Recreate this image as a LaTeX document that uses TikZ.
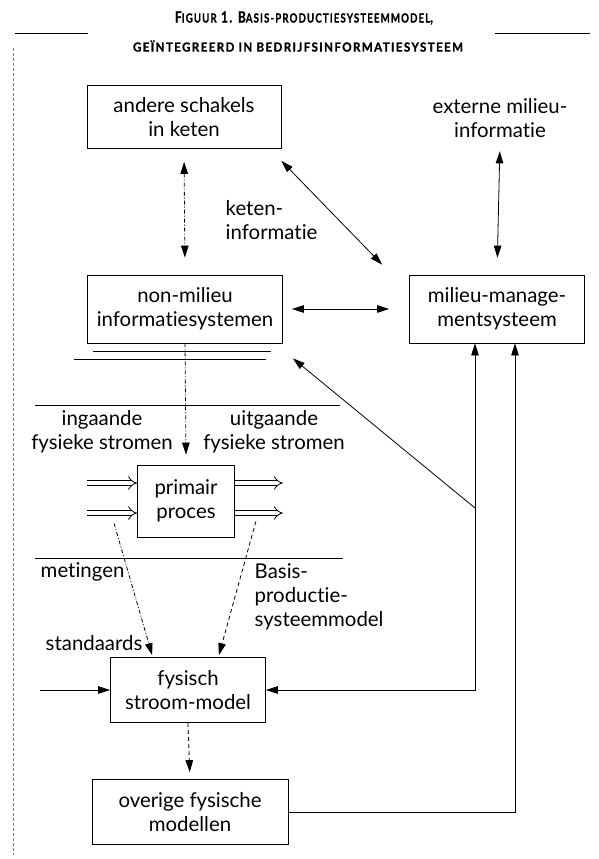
\documentclass[tikz,border=0pt]{standalone}
\usepackage{fontspec}
\usepackage{graphicx}
\setmainfont{Lato}[Ligatures=NoCommon]
\newfontfamily\titelfont{Lato}[LetterSpace=12, Ligatures=NoCommon, BoldFeatures={FakeBold=1.2}]
\usetikzlibrary{arrows.meta, calc}
\newcommand{\kl}[1]{{\fontsize{12.5}{14}\selectfont #1}}

\begin{document}
\begin{tikzpicture}[x=1pt, y=-1pt, line width=0.8pt, >={Triangle[length=12pt, width=7.5pt]},
    every node/.style={font=\fontsize{20.4}{24}\selectfont},
    blok/.style={draw, align=center, inner sep=0pt},
    streepstip/.style={dash pattern=on 4pt off 2pt on 1pt off 2pt},
    gestreept/.style={dash pattern=on 4pt off 3pt},
    stroom/.style={double, double distance=4pt, line width=0.8pt, -{Implies}}]
  \useasboundingbox (0,0) rectangle (599,859);
  % titel
  \node[font=\titelfont\bfseries\fontsize{15.5}{17}\selectfont] (titel1) at (304,18) {\resizebox{258pt}{\height}{F\kl{IGUUR} 1. B\kl{ASIS-PRODUCTIESYSTEEMMODEL},}};
  \node[font=\titelfont\bfseries\fontsize{15.5}{17}\selectfont] (titel2) at (298,46) {\resizebox{330pt}{\height}{\kl{GEÏNTEGREERD IN BEDRIJFSINFORMATIESYSTEEM}}};
  \draw (15,33) -- (88,33);
  \draw (495,33) -- (590,33);
  \draw[gray, densely dashed, line width=0.5pt] (13,48) -- (13,855);

  % blokken
  \node[blok, minimum width=194, minimum height=63] (schakels) at (184,117) {andere schakels\\in keten};
  \node[align=center] (extern) at (500,118) {externe milieu-\\informatie};
  \node[blok, minimum width=195, minimum height=68] (nonmilieu) at (185,309) {non-milieu\\informatiesystemen};
  \node[blok, minimum width=175, minimum height=68] (milieumgmt) at (497,309) {milieu-manage-\\mentsysteem};
  \node[blok, minimum width=97, minimum height=72] (primair) at (186,501) {primair\\proces};
  \node[blok, minimum width=155, minimum height=65] (fysisch) at (188,690) {fysisch\\stroom-model};
  \node[blok, minimum width=196, minimum height=65] (overige) at (190,812) {overige fysische\\modellen};

  % labels
  \node[align=left, anchor=west] (keteninfo) at (222,220) {keten-\\informatie};
  \node[align=center] (ingaand) at (102,432) {ingaande\\fysieke stromen};
  \node[align=center] (uitgaand) at (274,432) {uitgaande\\fysieke stromen};
  \node[anchor=west] (metingen) at (37,572) {metingen};
  \node[align=left, anchor=north west] (basis) at (251,560) {Basis-\\productie-\\systeemmodel};
  \node[anchor=west] (standaards) at (42,643) {standaards};

  % scheidingslijnen
  \draw (35,405) -- (340,405);
  \draw (35,558) -- (343,558);
  \draw[line width=0.5pt] ($(nonmilieu.south west)+(6,8)$) -- ($(nonmilieu.south east)+(-12,8)$);
  \draw[line width=0.5pt] ($(nonmilieu.south west)+(-13,16)$) -- ($(nonmilieu.south east)+(-17,16)$);

  % informatiestromen
  \draw[<->, streepstip, shorten <=13pt, shorten >=17pt] (schakels.south) -- (nonmilieu.north);
  \draw[<->] ($(schakels.south east)+(0,12)$) -- ($(milieumgmt.north west)+(-27,-10)$);
  \draw[<->, shorten <=10pt, shorten >=17pt] (extern.south) -- (milieumgmt.north);
  \draw[<->, shorten <=9pt, shorten >=20pt] (nonmilieu.east) -- (milieumgmt.west);
  \draw[->, streepstip] (nonmilieu.south) -- ($(primair.north)+(0,-10)$);
  \coordinate (hoek1) at (475,690);
  \coordinate (aftak) at (475,508);
  \coordinate (hoek2) at (515,812);
  \draw[<->] (fysisch.east) -- (hoek1) -- (hoek1 |- milieumgmt.south);
  \draw[->] (aftak) -- ($(nonmilieu.south east)+(10,15)$);
  \draw[->] (overige.east) -- (hoek2) -- (hoek2 |- milieumgmt.south);
  \coordinate (invoer) at (40,690);
  \draw[->] (invoer) -- (fysisch.west);
  \draw[->, gestreept, shorten >=7pt] (fysisch.south) -- (overige.north);
  \draw[->, streepstip] ($(primair.south west)+(-23,-14)$) -- ($(fysisch.north west)+(42,-2)$);
  \draw[->, gestreept] ($(primair.south east)+(21,-16)$) -- ($(fysisch.north east)+(-47,-2)$);

  % fysieke stromen
  \draw[stroom] ($(primair.west)+(-50,-18)$) -- ($(primair.west)+(0,-18)$);
  \draw[stroom] ($(primair.west)+(-50,12)$) -- ($(primair.west)+(0,12)$);
  \draw[stroom] ($(primair.east)+(0,-18)$) -- ($(primair.east)+(48,-18)$);
  \draw[stroom] ($(primair.east)+(0,12)$) -- ($(primair.east)+(48,12)$);
\end{tikzpicture}
\end{document}
